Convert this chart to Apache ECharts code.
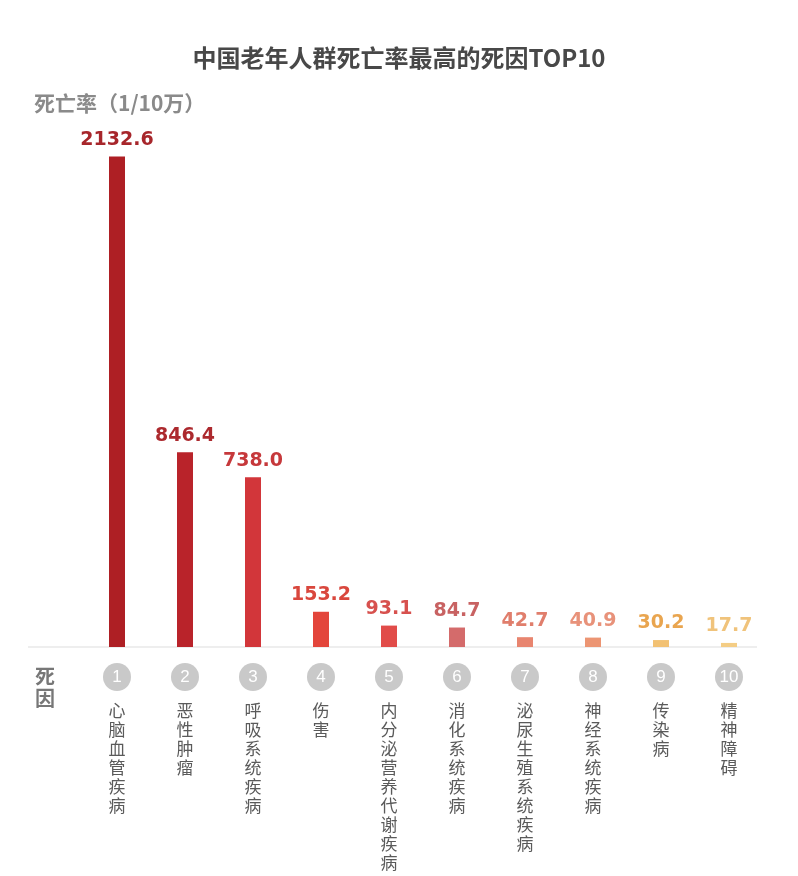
<!DOCTYPE html>
<html>
<head>
<meta charset="utf-8">
<script src="https://cdn.jsdelivr.net/npm/echarts@6/dist/echarts.min.js"></script>
<style>html,body{margin:0;padding:0;background:#fff}#c{width:798px;height:876px}</style>
</head>
<body>
<div id="c"></div>
<script>
const ranks = ['1','2','3','4','5','6','7','8','9','10'];
const causes = ['心脑血管疾病','恶性肿瘤','呼吸系统疾病','伤害','内分泌营养代谢疾病','消化系统疾病','泌尿生殖系统疾病','神经系统疾病','传染病','精神障碍'];
const rates = [2132.6, 846.4, 738.0, 153.2, 93.1, 84.7, 42.7, 40.9, 30.2, 17.7];

const barPalette = ['#ae1f24','#b9232a','#d2363a','#e3453b','#e14c49','#d46b6b','#e8856f','#ec9573','#f2c173','#f4cd85'];
const labelPalette = ['#a7262b','#ac292e','#c6383b','#d9473d','#d7514e','#c86262','#e07e6c','#e8927a','#e9a54f','#f0c37b'];

const chart = echarts.init(document.getElementById('c'));
chart.setOption({
  backgroundColor: '#ffffff',
  title: [
    { text: '中国老年人群死亡率最高的死因TOP10', left: 'center', top: 41,
      textStyle: { fontSize: 24, fontWeight: 'bold', color: '#484848', fontFamily: 'Noto Sans CJK SC' } },
    { text: '死亡率（1/10万）', left: 29, top: 88,
      textStyle: { fontSize: 21, fontWeight: 'bold', color: '#8a8a8a', fontFamily: 'Noto Sans CJK SC' } },
    { text: '死\n因', left: 30, top: 660,
      textStyle: { fontSize: 20, fontWeight: 'bold', color: '#777777', lineHeight: 22, fontFamily: 'Noto Sans CJK SC' } }
  ],
  graphic: [
    { type: 'line', shape: { x1: 28, y1: 647, x2: 757, y2: 647 }, style: { stroke: '#dddddd', lineWidth: 1 }, z: 0 }
  ],
  grid: { left: 83, right: 35, top: 141, bottom: 229 },
  xAxis: {
    type: 'category',
    data: ranks,
    axisLine: { show: false },
    axisTick: { show: false },
    axisLabel: {
      interval: 0,
      margin: 16,
      formatter: function (v, i) {
        const chars = causes[i].split('').map(ch => '{t|' + ch + '}').join('\n');
        return '{c|' + v + '}\n{s|}\n' + chars;
      },
      rich: {
        c: { width: 28, height: 28, lineHeight: 28, borderRadius: 14, backgroundColor: '#c9c9c9', color: '#ffffff',
             fontSize: 17, align: 'center', fontFamily: 'Liberation Sans' },
        s: { height: 10, lineHeight: 10, fontSize: 1 },
        t: { fontSize: 17, lineHeight: 19, color: '#5a5a5a', fontFamily: 'Noto Sans CJK SC', align: 'center' }
      }
    }
  },
  yAxis: {
    type: 'value', min: 0, max: 2200,
    axisLine: { show: false }, axisTick: { show: false }, axisLabel: { show: false }, splitLine: { show: false }
  },
  series: [{
    type: 'bar',
    barWidth: 16,
    data: rates.map((v, i) => ({
      value: v,
      itemStyle: { color: barPalette[i] },
      label: { color: labelPalette[i] }
    })),
    label: {
      show: true, position: 'top', distance: 7,
      fontSize: 19, fontWeight: 'bold', fontFamily: 'DejaVu Sans',
      formatter: p => p.value.toFixed(1)
    }
  }]
});
</script>
</body>
</html>
